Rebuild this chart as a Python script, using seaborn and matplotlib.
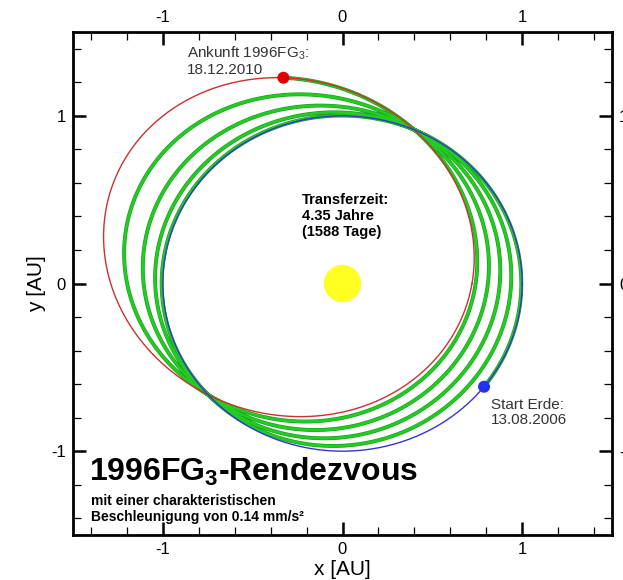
import numpy as np
import pandas as pd
import matplotlib
matplotlib.use("Agg")
import matplotlib.pyplot as plt
from matplotlib.ticker import MultipleLocator
import seaborn as sns

# Orbital elements projected onto the ecliptic
earth_a = 1.0          # AU
earth_e = 0.0
fg3_a = 1.054          # AU
fg3_e = 0.350
fg3_peri_lon = 324.0   # longitude of perihelion [deg]

# Low-thrust transfer: heliocentric longitude at launch / arrival [deg]
start_lon = -38.0
arrival_lon = 105.0
n_revs = 4             # full revolutions between launch and arrival

axis_limits = [-1.5, 1.5]
major_step = 1.0
minor_step = 0.2

sns.set_style("ticks")
plt.rcParams["font.family"] = ["Liberation Sans", "DejaVu Sans"]
plt.rcParams["mathtext.fontset"] = "custom"
plt.rcParams["mathtext.rm"] = "Liberation Sans"
plt.rcParams["mathtext.bf"] = "Liberation Sans:bold"
plt.rcParams["mathtext.it"] = "Liberation Sans:italic"
plt.rcParams["text.color"] = "black"
plt.rcParams["axes.labelcolor"] = "black"


def orbit_radius(a, e, peri, lon):
    p = a * (1.0 - e ** 2)
    return p / (1.0 + e * np.cos(np.radians(lon - peri)))


def to_xy(r, lon):
    return r * np.cos(np.radians(lon)), r * np.sin(np.radians(lon))


# Closed orbits
lon_full = np.linspace(0.0, 360.0, 1441)
ex, ey = to_xy(orbit_radius(earth_a, earth_e, 0.0, lon_full), lon_full)
fx, fy = to_xy(orbit_radius(fg3_a, fg3_e, fg3_peri_lon, lon_full), lon_full)
earth = pd.DataFrame({"x": ex, "y": ey})
fg3 = pd.DataFrame({"x": fx, "y": fy})

# Spiral transfer: blend from the Earth orbit into the target orbit
end_lon = arrival_lon + 360.0 * n_revs
lon_t = np.linspace(start_lon, end_lon, 6000)
u = (lon_t - start_lon) / (end_lon - start_lon)
k = 1.5 - 0.5 * np.cos(np.radians(lon_t - fg3_peri_lon))
s = u ** k
r_t = (1 - s) * orbit_radius(earth_a, earth_e, 0.0, lon_t) + s * orbit_radius(fg3_a, fg3_e, fg3_peri_lon, lon_t)
tx, ty = to_xy(r_t, lon_t)
transfer = pd.DataFrame({"x": tx, "y": ty})

sx, sy = to_xy(orbit_radius(earth_a, earth_e, 0.0, start_lon), start_lon)
ax_, ay_ = to_xy(orbit_radius(fg3_a, fg3_e, fg3_peri_lon, arrival_lon), arrival_lon)

W, H = 623, 580
fig = plt.figure(figsize=(W / 100, H / 100), dpi=100)
ax = fig.add_axes([73 / W, 1 - 535 / H, (612 - 73) / W, (535 - 32) / H])

sns.lineplot(data=transfer, x="x", y="y", sort=False, estimator=None, ax=ax,
             color="#1b9e1b", linewidth=2.8, zorder=2)
sns.lineplot(data=transfer, x="x", y="y", sort=False, estimator=None, ax=ax,
             color="#22cc22", linewidth=1.9, zorder=2.1)
sns.lineplot(data=fg3, x="x", y="y", sort=False, estimator=None, ax=ax,
             color="#cc3030", linewidth=1.0, zorder=3)
sns.lineplot(data=earth, x="x", y="y", sort=False, estimator=None, ax=ax,
             color="#3535d5", linewidth=1.0, zorder=3)

sns.scatterplot(x=[0.0], y=[0.0], ax=ax, s=720, color="#ffff22",
                edgecolor="none", zorder=4)
sns.scatterplot(x=[ax_], y=[ay_], ax=ax, s=75, color="#dd0000",
                edgecolor="none", zorder=5)
sns.scatterplot(x=[sx], y=[sy], ax=ax, s=75, color="#2233ee",
                edgecolor="none", zorder=5)

ax.set_xlim(axis_limits)
ax.set_ylim(axis_limits)
ax.xaxis.set_major_locator(MultipleLocator(major_step))
ax.yaxis.set_major_locator(MultipleLocator(major_step))
ax.xaxis.set_minor_locator(MultipleLocator(minor_step))
ax.yaxis.set_minor_locator(MultipleLocator(minor_step))
ax.xaxis.set_major_formatter(plt.FuncFormatter(lambda v, p: f"{v:g}"))
ax.yaxis.set_major_formatter(plt.FuncFormatter(lambda v, p: f"{v:g}"))
ax.tick_params(which="both", direction="in", top=True, right=True,
               labeltop=True, labelright=True, colors="black", labelsize=12)
ax.tick_params(which="major", length=9.5, width=1.8, pad=5)
ax.tick_params(which="minor", length=5.8, width=0.9)
for sp in ax.spines.values():
    sp.set_linewidth(2.0)
    sp.set_color("black")

ax.set_xlabel("x [AU]", fontsize=15, labelpad=2)
ax.set_ylabel("y [AU]", fontsize=15, labelpad=4)


def ftext(px, py, txt, **kw):
    # py is the baseline of the last line, in pixels from the top
    fig.text(px / W, 1 - py / H, txt, va="baseline", ha="left", **kw)


gray = "#333333"
ftext(187, 74, "Ankunft 1996FG$_\\mathrm{3}$:\n18.12.2010", fontsize=11,
      color=gray, linespacing=1.05)
ftext(491, 424, "Start Erde:\n13.08.2006", fontsize=11, color=gray,
      linespacing=1.05)

ftext(302, 236, "Transferzeit:\n4.35 Jahre\n(1588 Tage)", fontsize=10.5,
      fontweight="bold", linespacing=1.17)

ftext(89, 481, r"1996FG$_\mathbf{3}$-Rendezvous", fontsize=23, fontweight="bold")
ftext(91, 521, "mit einer charakteristischen\nBeschleunigung von 0.14 mm/s²",
      fontsize=10, fontweight="bold", linespacing=1.22)

fig.savefig("out.png", dpi=100, facecolor="white")
